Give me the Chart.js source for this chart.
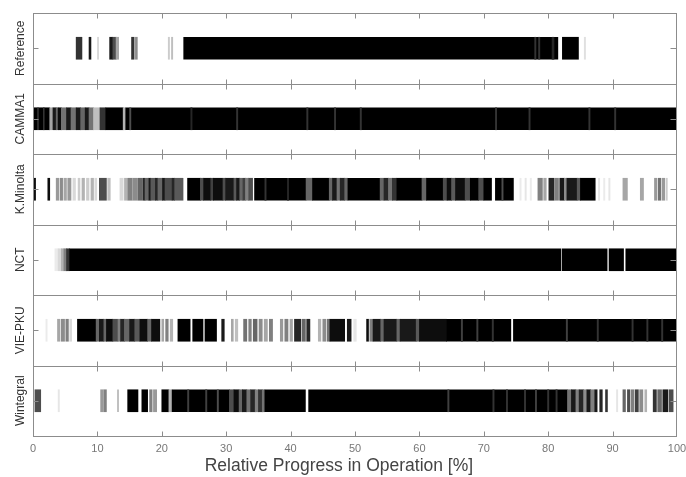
<!DOCTYPE html>
<html>
<head>
<meta charset="utf-8">
<title>Relative Progress in Operation</title>
<script src="https://cdn.jsdelivr.net/npm/chart.js@4/dist/chart.umd.min.js"></script>
<style>
  html, body { margin: 0; padding: 0; background: #fff; }
  canvas { display: block; }
</style>
</head>
<body>
<canvas id="chart" width="686" height="477"></canvas>
<script>
'use strict';

// rows, top to bottom
var rows = ['Reference', 'CAMMA1', 'K.Minolta', 'NCT', 'VIE-PKU', 'Wintegral'];
var tickValues = [0, 10, 20, 30, 40, 50, 60, 70, 80, 90, 100];
var xTitle = 'Relative Progress in Operation [%]';

// each entry: [start %, end %, density 0..1 (1 = black)]
var referenceBars = [
  [6.7, 7.6, 0.8], [8.7, 9.0, 0.9], [10.0, 10.2, 0.15],
  [11.9, 12.4, 0.9], [12.4, 12.9, 0.7], [12.9, 13.3, 0.35],
  [15.3, 15.7, 0.8], [15.9, 16.2, 0.45], [21.0, 21.2, 0.2], [21.5, 21.7, 0.25],
  [23.4, 81.5, 1], [77.9, 78.1, 0.8], [78.5, 78.7, 0.8], [80.6, 80.9, 0.85],
  [82.2, 84.7, 1], [85.6, 85.8, 0.12]
];

var cammaBars = [
  [0, 2.6, 1], [0.7, 0.85, 0.8], [1.6, 1.75, 0.8], [2.6, 3.1, 0.35],
  [3.1, 3.6, 0.9], [3.6, 3.9, 0.6], [3.9, 4.4, 0.95], [4.4, 5.2, 0.55],
  [5.2, 5.9, 0.9], [5.9, 6.7, 0.55], [6.7, 7.4, 0.9], [7.4, 8.1, 0.6],
  [8.1, 8.7, 0.9], [8.7, 9.4, 0.55], [9.4, 10.4, 0.25], [10.4, 11.3, 0.8],
  [11.3, 14.0, 1], [14.0, 14.4, 0.3], [14.4, 100, 1],
  [15.0, 15.2, 0.7], [24.5, 24.7, 0.85], [31.6, 31.8, 0.8], [42.5, 42.7, 0.8],
  [46.8, 47.0, 0.8], [50.8, 51.0, 0.8], [71.8, 72.0, 0.8], [77.0, 77.2, 0.8],
  [86.3, 86.5, 0.8], [90.3, 90.5, 0.8]
];

var minoltaBars = [
  [0.1, 0.4, 0.95], [2.3, 2.6, 0.95],
  [3.6, 4.0, 0.4], [4.2, 4.6, 0.45], [4.8, 5.2, 0.35], [5.4, 5.9, 0.4],
  [6.2, 6.6, 0.15], [7.0, 7.3, 0.2], [7.6, 8.0, 0.3], [8.3, 8.7, 0.2],
  [9.0, 9.4, 0.3], [9.6, 9.9, 0.15], [10.3, 11.4, 0.7], [11.6, 12.0, 0.25],
  [13.5, 14.0, 0.15], [14.2, 14.6, 0.3], [14.7, 15.4, 0.5], [15.5, 16.2, 0.45],
  [16.3, 17.0, 0.6], [17.1, 17.4, 0.85], [17.4, 18.0, 0.6], [18.0, 18.3, 0.9],
  [18.3, 19.0, 0.65], [19.0, 19.4, 0.85], [19.4, 20.1, 0.6], [20.1, 20.5, 0.9],
  [20.5, 21.6, 0.7], [21.6, 22.0, 0.85], [22.0, 23.3, 0.65],
  [24.0, 26.0, 1], [26.0, 26.5, 0.7], [26.5, 27.6, 0.95], [27.6, 28.0, 0.75],
  [28.0, 29.5, 0.95], [29.5, 29.9, 0.7], [29.9, 31.2, 0.9], [31.2, 31.6, 0.65],
  [31.6, 32.1, 0.9], [32.1, 32.6, 0.6], [32.6, 33.0, 0.75], [33.0, 33.5, 0.5],
  [33.5, 34.1, 0.7], [34.4, 42.4, 1], [36.0, 36.2, 0.8], [39.5, 39.7, 0.85],
  [42.4, 43.4, 0.6], [43.4, 46.0, 1], [46.0, 46.5, 0.6], [46.5, 47.2, 0.9],
  [47.2, 47.7, 0.55], [47.7, 48.4, 0.85], [48.4, 48.9, 0.6], [48.9, 53.9, 1],
  [53.9, 54.5, 0.6], [54.5, 55.2, 0.85], [55.2, 55.8, 0.55], [55.8, 56.5, 0.8],
  [56.5, 60.4, 1], [60.4, 61.1, 0.6], [61.1, 63.7, 1], [63.7, 64.3, 0.7],
  [64.3, 65.0, 0.95], [65.0, 65.6, 0.65], [65.6, 67.1, 0.95], [67.1, 67.9, 0.7],
  [67.9, 69.2, 1], [69.2, 70.0, 0.7], [70.0, 71.2, 1],
  [71.8, 74.6, 1], [72.8, 73.0, 0.7],
  [75.6, 75.8, 0.08], [76.4, 76.6, 0.1], [77.2, 77.4, 0.08],
  [78.4, 79.1, 0.5], [79.3, 79.7, 0.35], [80.1, 80.9, 0.85], [81.0, 81.6, 0.5],
  [81.8, 82.5, 0.9], [82.5, 82.9, 0.45], [82.9, 84.5, 0.9], [84.5, 85.0, 0.65],
  [85.0, 87.3, 1],
  [87.8, 88.0, 0.1], [88.6, 88.8, 0.08], [89.4, 89.6, 0.1],
  [91.6, 92.3, 0.35], [94.3, 94.8, 0.35],
  [96.5, 96.9, 0.4], [97.1, 97.5, 0.55], [97.7, 98.1, 0.4], [98.3, 98.5, 0.2]
];

var nctBars = [
  [3.4, 3.9, 0.08], [3.9, 4.4, 0.15], [4.4, 4.8, 0.3], [4.8, 5.2, 0.5],
  [5.2, 5.7, 0.8], [5.7, 81.95, 1], [82.15, 89.15, 1], [89.45, 91.7, 1],
  [92.05, 100, 1]
];

var viePkuBars = [
  [2.0, 2.2, 0.08], [3.8, 4.2, 0.35], [4.4, 4.9, 0.45], [5.1, 5.5, 0.5], [5.7, 6.0, 0.15],
  [6.9, 9.8, 1], [9.8, 10.3, 0.6], [10.3, 11.0, 0.9], [11.0, 11.4, 0.6],
  [11.4, 12.4, 0.95], [12.4, 13.2, 0.7], [13.2, 13.6, 0.5], [13.6, 14.2, 0.85],
  [14.2, 15.0, 0.6], [15.0, 15.8, 0.9], [15.8, 16.6, 0.65], [16.6, 17.8, 0.95],
  [17.8, 18.4, 0.6], [18.4, 19.7, 0.95],
  [20.0, 20.3, 0.35], [20.6, 21.0, 0.5], [21.3, 21.7, 0.3],
  [22.5, 24.4, 1], [24.8, 26.4, 1], [26.7, 28.5, 1], [29.3, 29.7, 0.9],
  [30.8, 31.1, 0.35], [31.4, 31.8, 0.25],
  [32.7, 33.2, 0.55], [33.5, 33.9, 0.5], [34.2, 34.8, 0.6], [35.1, 35.6, 0.45],
  [35.9, 36.4, 0.35], [36.7, 37.2, 0.5],
  [38.4, 38.8, 0.4], [39.1, 39.6, 0.5], [39.9, 40.3, 0.35], [40.6, 41.6, 0.85],
  [41.8, 42.3, 0.6], [42.5, 43.0, 0.85],
  [44.3, 44.7, 0.3], [45.0, 45.5, 0.45], [45.7, 46.1, 0.55], [46.1, 48.4, 0.95],
  [48.8, 49.4, 0.9], [49.8, 50.2, 0.1],
  [51.8, 52.1, 0.95], [52.3, 52.8, 0.5], [52.8, 54.0, 0.9], [54.0, 54.5, 0.6],
  [54.5, 56.5, 0.9], [56.5, 57.0, 0.6], [57.0, 59.5, 0.9], [59.5, 60.0, 0.65],
  [60.0, 64.2, 0.95], [64.2, 74.2, 1], [74.6, 100, 1],
  [66.5, 66.7, 0.75], [68.9, 69.1, 0.75], [71.3, 71.5, 0.8], [82.8, 83.0, 0.75],
  [87.6, 87.8, 0.8], [93.0, 93.2, 0.8], [95.3, 95.5, 0.8], [97.6, 97.8, 0.8]
];

var wintegralBars = [
  [0.3, 1.2, 0.7], [3.9, 4.1, 0.1], [10.5, 10.9, 0.4], [11.0, 11.4, 0.5],
  [13.1, 13.3, 0.25], [14.7, 16.3, 1], [16.9, 17.8, 1], [18.1, 18.5, 0.5],
  [18.7, 19.2, 0.4], [20.0, 21.1, 1], [21.1, 21.6, 0.3], [21.6, 30.5, 1],
  [24.0, 24.2, 0.75], [26.8, 27.0, 0.75], [28.6, 28.8, 0.7],
  [30.5, 31.2, 0.7], [31.2, 32.0, 0.95], [32.0, 32.5, 0.6], [32.5, 33.2, 0.9],
  [33.2, 33.8, 0.55], [33.8, 34.5, 0.85], [34.5, 35.0, 0.5], [35.0, 35.6, 0.8],
  [35.6, 36.0, 0.55], [36.0, 42.3, 1], [42.8, 83.0, 1],
  [64.4, 64.6, 0.75], [71.4, 71.6, 0.8], [73.5, 73.7, 0.8], [76.3, 76.5, 0.8],
  [78.0, 78.2, 0.75], [79.9, 80.1, 0.8], [81.2, 81.4, 0.8],
  [83.0, 83.6, 0.55], [83.6, 84.3, 0.9], [84.3, 84.8, 0.5], [84.8, 85.5, 0.85],
  [85.5, 86.0, 0.45], [86.0, 86.6, 0.9], [86.6, 87.1, 0.5], [87.2, 87.6, 0.9],
  [88.0, 88.4, 0.85], [88.9, 89.2, 0.8], [90.6, 90.8, 0.1],
  [91.6, 92.0, 0.6], [92.3, 92.7, 0.7], [92.9, 93.3, 0.5], [93.5, 94.0, 0.75],
  [94.2, 94.7, 0.45], [95.0, 95.3, 0.3],
  [96.3, 96.8, 0.8], [97.0, 97.6, 0.6], [97.8, 98.6, 0.9], [98.8, 99.4, 0.7]
];

var rowBars = [referenceBars, cammaBars, minoltaBars, nctBars, viePkuBars, wintegralBars];

(function () {
  Chart.defaults.font.family = "'Liberation Sans', Arial, sans-serif";

  function shade(d) {
    var g = Math.round(255 * (1 - d));
    return 'rgb(' + g + ',' + g + ',' + g + ')';
  }

  var datasets = rows.map(function (name, i) {
    var bars = rowBars[i];
    return {
      label: name,
      data: bars.map(function (b) { return { x: [b[0], b[1]], y: name }; }),
      backgroundColor: bars.map(function (b) { return shade(b[2]); }),
      borderWidth: 0,
      grouped: false,
      barThickness: 22
    };
  });

  // panel frames, inward ticks, rotated row labels and the axis title
  var panelFrame = {
    id: 'panelFrame',
    afterDatasetsDraw: function (chart) {
      var ctx = chart.ctx;
      var xs = chart.scales.x;
      var ys = chart.scales.y;
      var area = chart.chartArea;
      ctx.save();
      ctx.strokeStyle = '#8c8c8c';
      ctx.lineWidth = 1;
      ctx.beginPath();
      for (var i = 0; i <= rows.length; i++) {
        var py = Math.round(ys.getPixelForValue(i - 0.5)) + 0.5;
        ctx.moveTo(area.left, py);
        ctx.lineTo(area.right, py);
        for (var k = 0; k < tickValues.length; k++) {
          var v = tickValues[k];
          if (v <= xs.min || v >= xs.max) continue;
          var px = Math.round(xs.getPixelForValue(v)) + 0.5;
          ctx.moveTo(px, i > 0 ? py - 5 : py);
          ctx.lineTo(px, i < rows.length ? py + 5 : py);
        }
      }
      var lx = Math.round(area.left) + 0.5;
      var rx = Math.round(area.right) - 0.5;
      ctx.moveTo(lx, area.top);
      ctx.lineTo(lx, area.bottom);
      ctx.moveTo(rx, area.top);
      ctx.lineTo(rx, area.bottom);
      rows.forEach(function (name, j) {
        var cy = Math.round(ys.getPixelForValue(j)) + 0.5;
        ctx.moveTo(lx, cy);
        ctx.lineTo(lx + 5, cy);
        ctx.moveTo(rx - 6, cy);
        ctx.lineTo(rx, cy);
      });
      ctx.stroke();

      ctx.fillStyle = '#333';
      ctx.font = "12px 'Liberation Sans', Arial, sans-serif";
      ctx.textAlign = 'center';
      ctx.textBaseline = 'middle';
      rows.forEach(function (name, j) {
        var cy = ys.getPixelForValue(j);
        ctx.save();
        ctx.translate(20.5, cy);
        ctx.rotate(-Math.PI / 2);
        ctx.fillText(name, 0, 0);
        ctx.restore();
      });

      // title sits a little left of the plot centre in the original
      ctx.fillStyle = '#444';
      ctx.font = "17.5px 'Liberation Sans', Arial, sans-serif";
      ctx.fillText(xTitle, xs.getPixelForValue(47.5), 466);
      ctx.restore();
    }
  };

  new Chart(document.getElementById('chart'), {
    type: 'bar',
    data: { labels: rows, datasets: datasets },
    options: {
      indexAxis: 'y',
      responsive: false,
      animation: false,
      devicePixelRatio: 1,
      layout: { padding: { left: 33, right: 9, top: 13, bottom: 0 } },
      plugins: { legend: { display: false }, tooltip: { enabled: false } },
      scales: {
        y: { type: 'category', display: false, offset: true },
        x: {
          type: 'linear',
          min: 0,
          max: 100,
          grid: { display: false, drawTicks: false },
          border: { display: false },
          afterBuildTicks: function (s) {
            s.ticks = tickValues.map(function (v) { return { value: v }; });
          },
          afterFit: function (s) {
            s.height = 41;
            s.paddingLeft = 0;
            s.paddingRight = 0;
          },
          ticks: { color: '#777', font: { size: 11 }, padding: 6 }
        }
      }
    },
    plugins: [panelFrame]
  });
})();
</script>
</body>
</html>
